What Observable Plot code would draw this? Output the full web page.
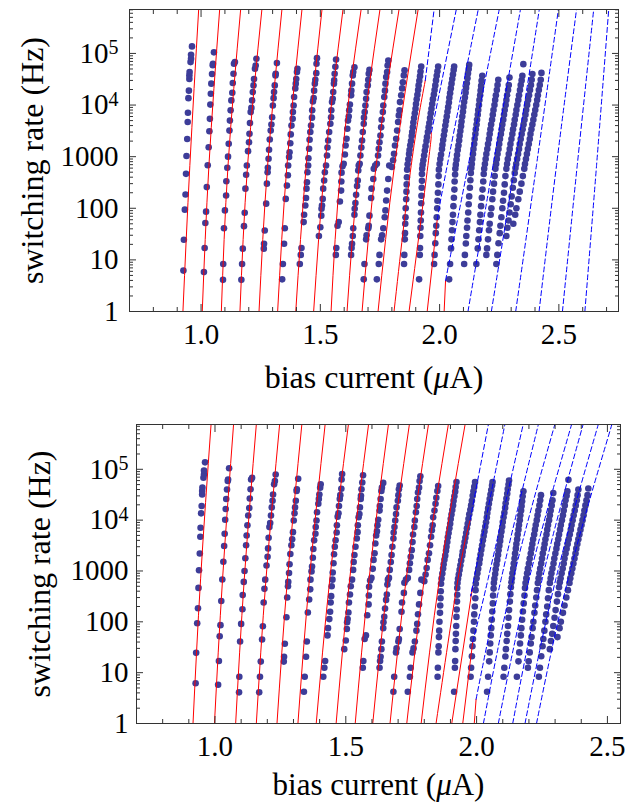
<!DOCTYPE html>
<html><head><meta charset="utf-8">
<script src="https://cdn.jsdelivr.net/npm/d3@7"></script>
<script src="https://cdn.jsdelivr.net/npm/@observablehq/plot@0.6"></script>
<style>
body{margin:0;background:#fff;}
#chart{width:641px;}
#chart svg{display:block;}
</style></head><body><div id="chart"></div>
<script>
// ---- measured switching rates: [bias current (µA), rate (Hz)] per temperature column ----
const col01=[[0.926,6.2],[0.928,24.5],[0.932,94],[0.935,185],[0.937,465],[0.939,1030],[0.942,2200],[0.944,4700],[0.945,7100],[0.947,13600],[0.949,19000],[0.951,32000],[0.951,37500],[0.952,43500],[0.956,68000],[0.958,79000],[0.958,94000],[0.962,137000]];
const col02=[[1.012,5.8],[1.015,17],[1.018,52],[1.021,86],[1.024,257],[1.028,680],[1.032,1520],[1.035,3100],[1.037,5400],[1.039,10200],[1.041,16500],[1.043,26000],[1.046,40000],[1.049,59000],[1.05,63000],[1.054,105000]];
const col03=[[1.092,4.1],[1.093,8.3],[1.096,41],[1.1,91],[1.105,177],[1.106,335],[1.11,610],[1.113,1000],[1.116,1780],[1.119,3200],[1.121,5000],[1.124,7900],[1.127,12300],[1.131,17300],[1.133,26700],[1.136,40500],[1.138,63000],[1.142,68000]];
const col04=[[1.169,4.1],[1.172,8.3],[1.175,16.5],[1.18,45],[1.183,82],[1.186,240],[1.189,445],[1.192,675],[1.197,1280],[1.201,1900],[1.203,2780],[1.205,4500],[1.208,7300],[1.211,8800],[1.214,12300],[1.217,17800],[1.22,24000],[1.222,32000],[1.226,50500],[1.229,58500],[1.232,79000]];
const col05=[[1.263,16.5],[1.264,20.5],[1.267,37],[1.273,123],[1.276,300],[1.279,500],[1.28,610],[1.283,910],[1.285,1360],[1.288,2150],[1.292,3200],[1.295,4200],[1.298,5800],[1.301,9800],[1.304,13600],[1.306,17800],[1.309,24000],[1.312,37500],[1.313,40500],[1.318,65000]];
const col06=[[1.34,4.2],[1.343,8.3],[1.348,20.5],[1.351,41],[1.355,152],[1.36,275],[1.364,435],[1.365,675],[1.369,980],[1.371,1220],[1.374,1820],[1.376,2700],[1.379,4000],[1.384,5400],[1.385,7300],[1.388,9800],[1.39,14300],[1.395,21000],[1.397,26000],[1.399,32000],[1.402,43500],[1.404,50500]];
const col07=[[1.414,8.3],[1.418,12.5],[1.421,17],[1.43,54],[1.432,75],[1.437,113],[1.44,158],[1.442,240],[1.444,320],[1.446,500],[1.449,675],[1.45,930],[1.453,1420],[1.455,2130],[1.458,3000],[1.461,4000],[1.465,5700],[1.466,7900],[1.469,11700],[1.472,13600],[1.474,19000],[1.477,26000],[1.479,31000],[1.483,41500],[1.484,63000],[1.486,81000]];
const col08=[[1.494,29],[1.5,43],[1.504,72],[1.505,98],[1.507,113],[1.51,152],[1.512,240],[1.516,345],[1.519,500],[1.524,675],[1.528,1050],[1.53,1500],[1.533,2050],[1.537,3000],[1.542,4350],[1.545,5800],[1.546,7900],[1.549,11400],[1.552,13200],[1.554,17800],[1.557,26000],[1.558,30000],[1.56,40500],[1.563,55000],[1.566,76000]];
const col09=[[1.565,12.5],[1.567,17],[1.572,46],[1.577,54],[1.582,135],[1.587,220],[1.588,330],[1.589,490],[1.593,650],[1.598,730],[1.603,1100],[1.606,1650],[1.61,2220],[1.613,3470],[1.616,5000],[1.619,6000],[1.621,7900],[1.624,10200],[1.629,15400],[1.63,19000],[1.633,26000],[1.636,37500],[1.638,43500],[1.643,54000]];
const col10=[[1.629,12.5],[1.631,17],[1.633,20.5],[1.636,29],[1.638,41],[1.643,75],[1.644,98],[1.647,126],[1.65,182],[1.654,270],[1.657,345],[1.659,540],[1.661,675],[1.665,730],[1.668,1050],[1.672,1500],[1.675,2050],[1.678,3000],[1.682,4350],[1.683,5700],[1.686,7300],[1.689,9800],[1.692,13200],[1.694,17800],[1.699,24000],[1.701,31000],[1.703,40500],[1.706,48000]];
const col11=[[1.682,4.2],[1.685,8.3],[1.692,25],[1.694,30],[1.701,41],[1.703,46],[1.706,72],[1.713,158],[1.715,240],[1.722,370],[1.724,585],[1.73,675],[1.737,730],[1.742,1050],[1.745,1420],[1.748,1900],[1.752,2570],[1.755,3700],[1.757,5200],[1.762,7300],[1.764,9800],[1.768,14300],[1.771,19000],[1.773,26000],[1.776,35000],[1.78,43500],[1.782,58500],[1.785,73000]];
const col12=[[1.737,4.2],[1.745,8.3],[1.748,12.5],[1.755,25],[1.759,30],[1.764,41],[1.77,67],[1.773,91],[1.776,141],[1.78,220],[1.785,370],[1.789,675],[1.8,630],[1.805,850],[1.809,1140],[1.813,1650],[1.818,2220],[1.822,3200],[1.826,4700],[1.829,6300],[1.832,7900],[1.834,11400],[1.839,15400],[1.843,21000],[1.846,27600],[1.85,37500],[1.853,47000]];
const col13=[[1.851,8.3],[1.852,12.5],[1.854,25],[1.855,33],[1.856,50],[1.857,67],[1.858,100],[1.86,150],[1.861,210],[1.862,290],[1.863,400],[1.864,560],[1.866,710],[1.869,890],[1.872,1120],[1.874,1350],[1.877,1660],[1.88,2000],[1.883,2500],[1.885,3000],[1.888,3700],[1.89,4600],[1.893,5600],[1.896,6900],[1.899,8500],[1.901,10500],[1.904,12900],[1.907,15800],[1.91,19500],[1.912,24000],[1.915,29500],[1.918,36300],[1.92,44700],[1.923,56000]];
const col14=[[1.914,4.2],[1.917,12.5],[1.918,17],[1.919,29],[1.92,42],[1.921,58],[1.922,83],[1.923,125],[1.924,175],[1.925,250],[1.926,340],[1.926,460],[1.927,580],[1.929,700],[1.932,850],[1.935,1050],[1.938,1300],[1.941,1600],[1.945,2000],[1.947,2400],[1.951,3000],[1.954,3700],[1.957,4500],[1.96,5600],[1.963,6900],[1.966,8500],[1.969,10500],[1.972,13000],[1.976,16000],[1.979,19500],[1.982,24000],[1.985,30000],[1.988,37000],[1.991,45000],[1.994,56000]];
const col15=[[1.977,8.3],[1.979,12.5],[1.982,21],[1.984,33],[1.986,46],[1.988,67],[1.99,100],[1.991,140],[1.993,200],[1.995,290],[1.996,420],[1.997,560],[2.0,720],[2.003,900],[2.006,1100],[2.01,1400],[2.012,1700],[2.015,2100],[2.018,2600],[2.021,3200],[2.024,4000],[2.027,4900],[2.03,6000],[2.033,7400],[2.036,9100],[2.039,11200],[2.041,13800],[2.044,17000],[2.047,21000],[2.05,26000],[2.053,32000],[2.056,39000],[2.059,48000],[2.061,56000]];
const col16=[[2.04,4.2],[2.044,8.3],[2.048,16.7],[2.05,25],[2.052,37.5],[2.054,54],[2.056,75],[2.058,110],[2.06,160],[2.062,230],[2.063,330],[2.065,450],[2.066,580],[2.068,700],[2.071,870],[2.073,1080],[2.076,1340],[2.079,1650],[2.082,2050],[2.084,2550],[2.087,3150],[2.09,3900],[2.092,4800],[2.095,6000],[2.098,7400],[2.1,9200],[2.103,11400],[2.106,14000],[2.109,17400],[2.111,21500],[2.114,26500],[2.117,33000],[2.119,41000],[2.122,50000],[2.124,60000]];
const col17=[[2.103,8.3],[2.106,12.5],[2.11,20.8],[2.112,29],[2.115,42],[2.117,58],[2.12,83],[2.122,120],[2.124,170],[2.127,250],[2.129,350],[2.131,480],[2.133,600],[2.135,720],[2.137,900],[2.14,1120],[2.142,1400],[2.145,1750],[2.147,2200],[2.15,2750],[2.152,3400],[2.155,4200],[2.157,5200],[2.16,6500],[2.162,8000],[2.165,10000],[2.167,12500],[2.17,15500],[2.172,19000],[2.174,23500],[2.176,29500],[2.179,37000]];
const col18=[[2.154,8.3],[2.16,16.7],[2.163,25],[2.166,37.5],[2.169,54],[2.171,75],[2.174,110],[2.177,160],[2.18,230],[2.183,330],[2.185,460],[2.187,580],[2.19,720],[2.193,900],[2.196,1120],[2.2,1400],[2.203,1750],[2.207,2200],[2.21,2750],[2.213,3400],[2.216,4200],[2.22,5200],[2.223,6500],[2.226,8000],[2.23,10000],[2.233,12500],[2.236,15500],[2.24,19500],[2.243,24500],[2.246,31000]];
const col19=[[2.196,12.5],[2.199,16.7],[2.203,25],[2.207,37.5],[2.21,50],[2.214,75],[2.217,100],[2.221,150],[2.224,210],[2.228,300],[2.231,420],[2.234,580],[2.237,720],[2.24,900],[2.243,1120],[2.247,1400],[2.25,1750],[2.253,2200],[2.257,2750],[2.26,3400],[2.263,4200],[2.267,5200],[2.27,6500],[2.273,8000],[2.277,10000],[2.28,12500],[2.283,15500],[2.287,19500],[2.29,24500],[2.293,34000]];
const col20=[[2.238,8.3],[2.242,12.5],[2.247,21],[2.252,33],[2.255,46],[2.259,67],[2.263,100],[2.266,140],[2.27,200],[2.273,290],[2.276,420],[2.28,580],[2.283,720],[2.286,900],[2.29,1120],[2.294,1400],[2.297,1750],[2.301,2200],[2.305,2750],[2.308,3400],[2.312,4200],[2.315,5200],[2.319,6500],[2.322,8000],[2.326,10000],[2.33,12500],[2.333,15500],[2.337,19500],[2.34,24500],[2.344,30000],[2.347,37000],[2.351,62000]];
const col21=[[2.28,29],[2.284,42],[2.289,58],[2.293,83],[2.298,120],[2.302,170],[2.307,250],[2.311,350],[2.315,480],[2.318,600],[2.321,720],[2.325,900],[2.329,1120],[2.333,1400],[2.336,1750],[2.34,2200],[2.344,2750],[2.348,3400],[2.352,4200],[2.356,5200],[2.36,6500],[2.363,8000],[2.367,10000],[2.371,12500],[2.375,15500],[2.379,19500],[2.383,24500],[2.386,31000],[2.389,40000]];
const col22=[[2.309,50],[2.317,75],[2.322,100],[2.33,150],[2.336,210],[2.343,300],[2.349,420],[2.355,580],[2.358,720],[2.362,900],[2.366,1120],[2.37,1400],[2.374,1750],[2.378,2200],[2.381,2750],[2.385,3400],[2.389,4200],[2.393,5200],[2.397,6500],[2.401,8000],[2.405,10000],[2.409,12500],[2.412,15500],[2.416,19500],[2.42,24500],[2.424,31000],[2.427,42000]];
const columns=[col01,col02,col03,col04,col05,col06,col07,col08,col09,col10,col11,col12,col13,col14,col15,col16,col17,col18,col19,col20,col21,col22];

// ---- theory curves, upper panel: points [current, rate]; solid (red) up to index, dashed (blue) after ----
const topLines=[
 [[0.924,1],[0.953,676],[0.99,7.1e5]],
 [[1.005,1],[1.033,676],[1.078,7.1e5]],
 [[1.085,1],[1.113,676],[1.166,7.1e5]],
 [[1.163,1],[1.195,676],[1.255,7.1e5]],
 [[1.243,1],[1.279,676],[1.339,7.1e5]],
 [[1.321,1],[1.36,676],[1.423,7.1e5]],
 [[1.397,1],[1.441,676],[1.507,7.1e5]],
 [[1.472,1],[1.519,676],[1.595,7.1e5]],
 [[1.545,1],[1.587,676],[1.671,7.1e5]],
 [[1.612,1],[1.663,676],[1.75,7.1e5]],
 [[1.675,1],[1.734,676],[1.83,7.1e5]],
 [[1.742,1],[1.811,676],[1.91,7.1e5]],
 [[1.809,1],[1.881,676],[1.94,3e4],[1.977,7.1e5]],
 [[1.872,1],[1.951,676],[1.966,3000],[2.07,7.1e5]],
 [[1.948,1],[1.99,60],[2.032,676],[2.162,7.1e5]],
 [[2.019,1],[2.025,4],[2.12,676],[2.25,7.1e5]],
 [[2.119,1],[2.224,676],[2.339,7.1e5]],
 [[2.217,1],[2.315,676],[2.418,7.1e5]],
 [[2.319,1],[2.406,676],[2.498,7.1e5]],
 [[2.417,1],[2.49,676],[2.574,7.1e5]],
 [[2.515,1],[2.577,676],[2.646,7.1e5]],
 [[2.609,1],[2.658,676],[2.709,7.1e5]]
];
const topSolidEnd=[2,2,2,2,2,2,2,2,2,2,2,2,2,2,1,1,0,0,0,0,0,0];

// ---- theory curves, lower panel ----
const botLines=[
 [[0.916,1],[0.945,700],[0.985,7.6e5]],
 [[0.998,1],[1.029,700],[1.071,7.6e5]],
 [[1.079,1],[1.112,700],[1.158,7.6e5]],
 [[1.158,1],[1.195,700],[1.247,7.6e5]],
 [[1.237,1],[1.277,700],[1.332,7.6e5]],
 [[1.317,1],[1.361,700],[1.421,7.6e5]],
 [[1.387,1],[1.439,700],[1.51,7.6e5]],
 [[1.463,1],[1.515,700],[1.587,7.6e5]],
 [[1.536,1],[1.589,700],[1.663,7.6e5]],
 [[1.603,1],[1.662,700],[1.743,7.6e5]],
 [[1.669,1],[1.731,700],[1.816,7.6e5]],
 [[1.733,1],[1.8,700],[1.892,7.6e5]],
 [[1.788,1],[1.858,700],[1.956,7.6e5]],
 [[1.845,1],[1.929,700],[1.975,1e4],[2.045,7.6e5]],
 [[1.905,1],[1.985,500],[1.99,700],[2.108,7.6e5]],
 [[1.947,1],[1.985,40],[2.044,700],[2.178,7.6e5]],
 [[1.991,1],[1.998,3],[2.094,700],[2.236,7.6e5]],
 [[2.026,1],[2.14,700],[2.299,7.6e5]],
 [[2.083,1],[2.201,700],[2.363,7.6e5]],
 [[2.138,1],[2.251,700],[2.407,7.6e5]],
 [[2.185,1],[2.303,700],[2.465,7.6e5]],
 [[2.229,1],[2.35,700],[2.517,7.6e5]]
];
const botSolidEnd=[2,2,2,2,2,2,2,2,2,2,2,2,2,2,1,1,1,0,0,0,0,0];

// ---- axes ----
const xTickMajor=[1.0,1.5,2.0,2.5];
const xTickMinor=[0.8,0.9,1.1,1.2,1.3,1.4,1.6,1.7,1.8,1.9,2.1,2.2,2.3,2.4,2.6,2.7];
const yTickValues=[1,10,100,1000,1e4,1e5];
const yTickLabels=["1","10","100","1000","10^4","10^5"];
const yTickMinor=[2,3,4,5,6,7,8,9,20,30,40,50,60,70,80,90,200,300,400,500,600,700,800,900,2000,3000,4000,5000,6000,7000,8000,9000,2e4,3e4,4e4,5e4,6e4,7e4,8e4,9e4,2e5,3e5,4e5,5e5,6e5,7e5];
const yTitle="switching rate (Hz)";
const xTitle="bias current (μA)";

const dots=columns.flat().map(([I,r])=>({I,r}));
function lineTables(lines, solidEnd){
  const red=[],dash=[];
  lines.forEach((pts,id)=>{
    const s=solidEnd[id];
    pts.forEach(([I,r],j)=>{
      if(j<=s) red.push({id,I,r});
      if(j>=s) dash.push({id,I,r});
    });
  });
  return {red,dash};
}

const FONT="'Liberation Serif','Times New Roman',serif";
const xFmt=d3.format(".1f");
function panel(o){
  const {red,dash}=lineTables(o.lines,o.solidEnd);
  const xMinor=xTickMinor.filter(d=>d>o.xDomain[0]&&d<o.xDomain[1]);
  const xMajor=xTickMajor.filter(d=>d>o.xDomain[0]&&d<o.xDomain[1]);
  const yMinor=yTickMinor.filter(d=>d<o.yTop);
  const blank=()=>"";
  const svg=Plot.plot({
    width:641,height:o.height,
    marginTop:o.mt,marginBottom:o.mb,marginLeft:o.ml,marginRight:o.mr,
    style:{fontFamily:FONT,background:"white",color:"black"},
    x:{domain:o.xDomain,label:null},
    y:{type:"log",domain:[1,o.yTop],label:null},
    marks:[
      Plot.dot(dots,{x:"I",y:"r",r:3.3,fill:"#3d3d99",stroke:"none",clip:true}),
      Plot.line(red,{x:"I",y:"r",z:"id",stroke:"#ff0000",strokeWidth:1,curve:"natural",clip:true}),
      Plot.line(dash,{x:"I",y:"r",z:"id",stroke:"#0000ff",strokeWidth:1,strokeDasharray:"5,3",curve:"natural",clip:true}),
      Plot.frame({stroke:"#333",strokeWidth:1}),
      Plot.axisX(xMajor,{anchor:"bottom",tickSize:-7,tickFormat:blank,stroke:"#333"}),
      Plot.axisX(xMinor,{anchor:"bottom",tickSize:-4,tickFormat:blank,stroke:"#333"}),
      Plot.axisX(xMajor,{anchor:"top",tickSize:-7,tickFormat:blank,stroke:"#333"}),
      Plot.axisX(xMinor,{anchor:"top",tickSize:-4,tickFormat:blank,stroke:"#333"}),
      Plot.axisY(yTickValues,{anchor:"left",tickSize:-7,tickFormat:blank,stroke:"#333"}),
      Plot.axisY(yMinor,{anchor:"left",tickSize:-4,tickFormat:blank,stroke:"#333"}),
      Plot.axisY(yTickValues,{anchor:"right",tickSize:-7,tickFormat:blank,stroke:"#333"}),
      Plot.axisY(yMinor,{anchor:"right",tickSize:-4,tickFormat:blank,stroke:"#333"}),
      Plot.axisX(xMajor,{anchor:"bottom",tickSize:0,tickPadding:o.xPad,tickFormat:xFmt,fontSize:29,fill:"black"}),
      Plot.axisY(yTickValues,{anchor:"left",tickSize:0,tickPadding:o.yPad,tickFormat:(d)=>yTickLabels[yTickValues.indexOf(d)],fontSize:29,fill:"black"}),
      Plot.text([yTitle],{frameAnchor:"left",textAnchor:"middle",lineAnchor:"middle",dx:-o.yTitleOff,rotate:-90,fontSize:32,fill:"black"}),
      Plot.text([xTitle],{frameAnchor:"bottom",textAnchor:"middle",lineAnchor:"middle",dy:o.xTitleOff,fontSize:o.xTitleSize,fill:"black"})
    ]
  });
  const tickTexts=new Set([...yTickLabels, ...xTickMajor.map(xFmt)]);
  d3.select(svg).selectAll("text").each(function(){
    const t=this.textContent;
    const s=d3.select(this);
    if(tickTexts.has(t)){
      s.attr("font-size",29).style("font-size","29px");
    }
    if(t.includes("^")){
      const [b,e]=t.split("^");
      s.text("");
      s.append("tspan").text(b);
      s.append("tspan").attr("dy","-0.42em").style("font-size","20px").text(e);
    } else if(t===xTitle){
      s.text("");
      s.append("tspan").text("bias current (");
      s.append("tspan").attr("font-style","italic").text("μ");
      s.append("tspan").text("A)");
    }
  });
  return svg;
}

const root=document.getElementById("chart");
root.appendChild(panel({height:400,mt:9,mb:89,ml:129,mr:23,xDomain:[0.7,2.75],yTop:7.1e5,lines:topLines,solidEnd:topSolidEnd,xPad:12,yPad:11,yTitleOff:97,xTitleOff:66,xTitleSize:32}));
root.appendChild(panel({height:404,mt:24,mb:81,ml:136,mr:21,xDomain:[0.7,2.55],yTop:7.6e5,lines:botLines,solidEnd:botSolidEnd,xPad:12,yPad:8,yTitleOff:97,xTitleOff:62,xTitleSize:31}));
</script></body></html>
